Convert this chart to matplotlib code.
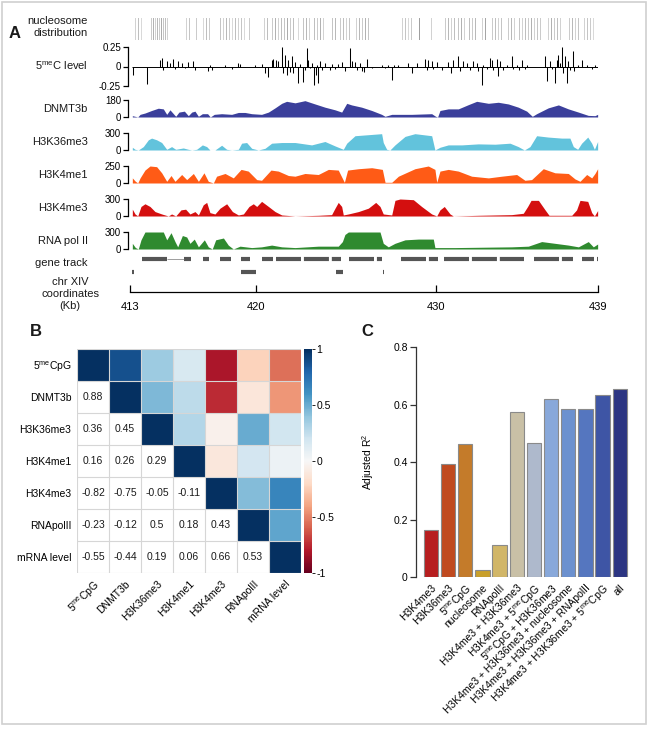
import numpy as np
import matplotlib
matplotlib.use('Agg')
import matplotlib.pyplot as plt
from matplotlib.patches import Rectangle

plt.rcParams['font.family'] = ['Liberation Sans', 'DejaVu Sans']
plt.rcParams['mathtext.fontset'] = 'custom'
plt.rcParams['mathtext.rm'] = 'Liberation Sans'
plt.rcParams['mathtext.it'] = 'Liberation Sans:italic'
plt.rcParams['mathtext.bf'] = 'Liberation Sans:bold'
plt.rcParams['text.color'] = '#1a1a1a'

# ---------------- panel A data (chr XIV, kb) ----------------
nucleosomes = [(413.28, .35), (413.44, .5), (413.61, .3),
               (414.17, .4), (414.28, .6), (414.39, .35), (414.5, .55), (414.61, .4), (414.72, .65),
               (414.83, .45), (414.94, .5), (415.06, .35),
               (416.11, .35), (416.28, .45), (416.67, .4),
               (417.06, .3), (417.22, .5), (417.39, .4),
               (418.0, .45), (418.17, .35), (418.33, .55), (418.5, .4), (418.67, .3), (418.83, .5),
               (419.0, .35), (419.17, .45), (419.33, .3), (419.61, .4),
               (420.44, .35), (420.61, .5), (420.89, .4), (421.06, .6), (421.22, .35), (421.39, .5),
               (421.56, .45), (421.72, .65), (421.89, .4), (422.06, .5), (422.33, .3),
               (422.61, .45), (422.78, .55), (422.94, .35), (423.22, .5), (423.39, .4), (423.56, .6),
               (423.72, .35), (424.22, .45), (424.39, .55),
               (424.67, .4), (424.83, .5), (425.0, .35), (425.17, .45), (425.56, .35), (425.72, .55),
               (425.89, .4), (426.06, .6), (426.22, .45),
               (428.11, .35), (428.28, .45), (428.44, .3), (428.61, .4), (429.06, .75), (429.72, .35),
               (430.5, .4), (430.67, .55), (430.83, .35), (431.0, .5), (431.22, .45), (431.39, .6),
               (431.56, .35), (431.83, .5), (432.0, .4), (432.17, .55), (432.56, .35), (432.72, .7),
               (433.11, .4), (433.28, .5), (433.44, .35), (433.61, .45), (434.0, .4), (434.17, .55),
               (434.33, .35),
               (434.61, .45), (434.78, .35), (434.94, .5), (435.11, .4), (435.28, .6), (435.44, .35),
               (435.61, .45), (435.78, .4),
               (436.22, .35), (436.39, .6), (436.56, .4), (436.72, .5), (436.89, .35), (437.39, .4),
               (437.56, .55), (437.72, .35), (437.89, .45),
               (438.22, .35), (438.39, .45), (438.56, .4), (438.72, .3)]

methyl_c = [(413.19, -0.108), (413.92, -0.224), (414.67, 0.086), (414.76, 0.108), (414.85, -0.043),
            (415.04, 0.065), (415.22, 0.043), (415.41, 0.095), (415.5, -0.034), (415.69, 0.065),
            (415.87, 0.043), (416.06, -0.022), (416.24, 0.052), (416.52, 0.065), (416.61, -0.043),
            (417.35, -0.052), (417.44, 0.022), (417.57, -0.043), (418.28, 0.017), (418.65, -0.026),
            (419.02, 0.043), (419.11, 0.03), (419.94, 0.022), (420.31, 0.03), (420.5, -0.086),
            (420.65, -0.129), (420.87, 0.078), (420.96, 0.095), (421.09, 0.086), (421.24, 0.065),
            (421.43, 0.25), (421.52, -0.086), (421.61, 0.151), (421.7, -0.108), (421.8, 0.086),
            (421.89, -0.065), (421.98, 0.129), (422.07, -0.086), (422.17, 0.052), (422.35, -0.216),
            (422.44, 0.034), (422.63, -0.194), (422.72, -0.043), (422.81, 0.237), (422.91, 0.086),
            (423.0, -0.022), (423.09, 0.043), (423.24, -0.237), (423.31, -0.108), (423.37, 0.022),
            (423.46, -0.216), (423.55, 0.065), (423.65, -0.043), (423.83, 0.043), (424.11, -0.043),
            (424.2, 0.034), (424.39, -0.034), (424.57, 0.034), (424.76, 0.052), (424.94, -0.052),
            (425.22, 0.237), (425.31, 0.065), (425.5, 0.052), (425.59, -0.043), (425.78, 0.043),
            (425.91, -0.052), (426.02, -0.065), (426.15, 0.095), (426.43, -0.022), (426.98, 0.022),
            (427.17, -0.022), (427.35, 0.017), (427.57, -0.172), (427.68, 0.022), (427.91, 0.017),
            (428.46, 0.043), (428.65, -0.078), (428.93, 0.043), (429.39, 0.095), (429.48, -0.043),
            (429.57, 0.086), (429.76, 0.065), (429.85, -0.034), (430.04, 0.052), (430.31, -0.043),
            (430.69, 0.052), (430.83, -0.078), (430.96, 0.078), (431.24, 0.129), (431.33, -0.052),
            (431.52, 0.065), (431.7, 0.043), (431.89, -0.043), (432.07, 0.065), (432.26, 0.043),
            (432.35, -0.052), (432.54, -0.237), (432.63, 0.022), (432.81, -0.034), (433.0, 0.108),
            (433.09, 0.086), (433.19, -0.043), (433.37, 0.095), (433.43, -0.121), (433.56, 0.065),
            (433.74, -0.043), (433.93, 0.022), (434.2, 0.129), (434.3, -0.034), (434.48, 0.022),
            (434.61, -0.043), (434.76, 0.086), (434.94, -0.034), (435.04, 0.022), (436.06, 0.129),
            (436.15, -0.181), (436.33, 0.065), (436.43, -0.034), (436.61, -0.216), (436.7, 0.086),
            (436.8, 0.151), (436.89, 0.043), (436.98, 0.25), (437.07, -0.086), (437.17, 0.129),
            (437.26, -0.207), (437.35, 0.065), (437.44, -0.043), (437.59, 0.194), (437.69, -0.052),
            (437.91, 0.022), (438.13, 0.086), (438.37, 0.022), (438.65, -0.026), (438.83, 0.022)]

dnmt3b = [(413.13, 14), (413.28, 7), (413.43, 0), (413.56, 28), (413.83, 42), (414.2, 69), (414.57, 93),
          (414.85, 86), (415.04, 28), (415.22, 76), (415.41, 35), (415.54, 7), (415.72, 52), (416.02, 62),
          (416.24, 14), (416.43, 52), (416.61, 62), (416.8, 7), (417.02, 35), (417.31, 35), (417.46, 0),
          (417.68, 28), (418.09, 35), (418.65, 28), (419.02, 48), (419.39, 48), (419.76, 35), (420.31, 28),
          (420.69, 52), (421.06, 97), (421.43, 145), (421.7, 166), (422.17, 150), (422.72, 173),
          (423.28, 138), (423.83, 104), (424.39, 76), (424.76, 52), (425.04, 145), (425.31, 128),
          (425.87, 104), (426.43, 69), (426.98, 28), (427.17, 7), (427.54, 28), (428.65, 28), (429.76, 35),
          (429.98, 7), (430.09, 0), (430.22, 69), (430.68, 86), (431.24, 86), (431.8, 131), (432.26, 166),
          (432.91, 145), (433.46, 156), (434.02, 138), (434.57, 104), (435.04, 62), (435.35, 7),
          (435.59, 35), (436.24, 97), (436.8, 128), (437.35, 86), (437.91, 52), (438.46, 17), (438.83, 14),
          (438.98, 28)]

h3k36me3 = [(413.13, 48), (413.28, 12), (413.46, 0), (413.74, 60), (414.02, 180), (414.2, 210), (414.48, 180),
            (414.76, 132), (415.04, 12), (415.31, 60), (415.54, 12), (415.96, 36), (416.24, 12), (416.43, 0),
            (416.7, 12), (417.02, 90), (417.26, 60), (417.44, 0), (417.72, 0), (418.09, 84), (418.37, 12),
            (418.65, 0), (419.02, 12), (419.2, 120), (419.48, 132), (419.76, 30), (420.13, 0), (420.5, 30),
            (420.87, 120), (421.43, 132), (422.17, 132), (423.09, 90), (423.83, 150), (424.39, 72),
            (424.85, 12), (425.04, 120), (425.5, 252), (426.24, 270), (426.98, 288), (427.07, 132),
            (427.26, 12), (427.44, 0), (427.72, 90), (428.28, 240), (428.83, 288), (429.76, 252),
            (429.94, 0), (430.22, 48), (430.68, 90), (431.43, 90), (432.35, 108), (433.28, 102),
            (434.11, 120), (434.57, 60), (434.91, 0), (435.22, 60), (435.59, 252), (436.24, 228),
            (436.98, 210), (437.44, 210), (437.63, 60), (437.87, 12), (438.09, 120), (438.43, 228),
            (438.65, 120), (438.8, 12), (438.98, 150)]

h3k4me1 = [(413.13, 75), (413.3, 25), (413.43, 0), (413.56, 75), (413.83, 190), (414.11, 250), (414.48, 240),
           (414.76, 150), (415.04, 25), (415.28, 110), (415.5, 25), (415.87, 125), (416.15, 50), (416.52, 140),
           (416.8, 25), (417.11, 150), (417.35, 25), (417.63, 0), (417.81, 100), (418.28, 140), (418.74, 75),
           (419.17, 200), (419.57, 175), (420.04, 50), (420.31, 40), (420.83, 190), (421.24, 175),
           (421.8, 110), (422.17, 100), (422.72, 140), (423.46, 125), (424.02, 200), (424.57, 190),
           (424.91, 10), (425.09, 190), (425.69, 210), (426.43, 225), (427.02, 200), (427.17, 10),
           (427.54, 10), (427.91, 100), (428.83, 210), (429.57, 250), (429.94, 200), (430.04, 10),
           (430.22, 175), (430.68, 200), (431.24, 175), (431.98, 100), (432.91, 75), (433.65, 100),
           (434.48, 125), (434.94, 40), (435.31, 50), (435.96, 210), (436.61, 150), (437.35, 140),
           (437.72, 60), (438.0, 25), (438.37, 125), (438.65, 75), (438.83, 140), (438.98, 210)]

h3k4me3 = [(413.13, 120), (413.28, 36), (413.43, 0), (413.61, 168), (413.83, 216), (414.11, 168), (414.39, 78),
           (414.76, 36), (415.13, 0), (415.31, 36), (415.54, 0), (415.83, 108), (416.09, 120), (416.33, 36),
           (416.61, 78), (416.8, 18), (417.07, 198), (417.26, 240), (417.44, 60), (417.72, 36), (418.0, 138),
           (418.37, 216), (418.69, 78), (419.02, 18), (419.3, 36), (419.61, 168), (419.85, 216),
           (420.04, 168), (420.31, 258), (420.69, 168), (421.06, 78), (421.43, 18), (422.17, 0),
           (423.46, 12), (424.2, 24), (424.39, 138), (424.57, 240), (424.76, 168), (424.85, 18),
           (425.13, 36), (425.69, 78), (426.24, 138), (426.65, 240), (426.89, 168), (427.07, 36),
           (427.54, 18), (427.72, 276), (428.0, 300), (428.74, 288), (429.2, 168), (429.76, 36),
           (430.04, 0), (430.22, 108), (430.46, 168), (430.78, 36), (430.96, 0), (432.35, 12), (434.2, 24),
           (434.85, 48), (435.09, 168), (435.28, 276), (435.69, 276), (436.06, 108), (436.28, 12),
           (437.54, 12), (437.81, 108), (438.0, 276), (438.43, 258), (438.65, 60), (438.8, 0), (438.98, 96)]

rnapol2 = [(413.13, 100), (413.3, 25), (413.46, 0), (413.61, 162), (413.83, 300), (414.2, 300), (414.85, 300),
           (415.04, 162), (415.28, 288), (415.5, 131), (415.65, 38), (415.91, 238), (416.15, 212),
           (416.33, 100), (416.57, 175), (416.8, 38), (417.13, 162), (417.35, 38), (417.57, 0),
           (417.76, 162), (418.19, 194), (418.46, 69), (418.74, 0), (419.11, 50), (419.76, 25), (420.31, 38),
           (420.87, 69), (421.43, 38), (422.17, 25), (423.46, 50), (424.57, 50), (424.8, 131), (424.94, 256),
           (425.13, 300), (426.89, 300), (427.07, 100), (427.35, 38), (427.72, 100), (428.28, 162),
           (429.02, 175), (429.85, 175), (429.94, 25), (431.06, 25), (434.2, 38), (435.13, 50),
           (435.87, 131), (436.61, 100), (437.35, 69), (437.91, 38), (438.46, 131), (438.74, 38),
           (438.98, 88)]

genes_row1 = [(413.67, 415.03), (416.0, 416.39), (417.06, 417.39), (418.0, 418.61), (419.14, 419.67),
              (420.31, 420.94), (421.11, 424.72), (425.14, 427.0), (428.06, 430.11), (430.42, 434.89),
              (435.42, 437.61), (438.09, 438.78), (438.95, 439.0)]
introns_row1 = [(415.03, 416.0)]
genes_row2 = [(413.13, 413.2), (419.14, 420.0), (424.42, 424.83), (427.04, 427.1)]
coord_ticks = [413, 420, 430, 439]

# ---------------- panel B data ----------------
hm_labels = [r'5$^{\mathrm{me}}$CpG', 'DNMT3b', 'H3K36me3', 'H3K4me1', 'H3K4me3', 'RNApolII', 'mRNA level']
corr_lower = [[0.88],
              [0.36, 0.45],
              [0.16, 0.26, 0.29],
              [-0.82, -0.75, -0.05, -0.11],
              [-0.23, -0.12, 0.5, 0.18, 0.43],
              [-0.55, -0.44, 0.19, 0.06, 0.66, 0.53]]

# ---------------- panel C data ----------------
bar_labels = ['H3K4me3', 'H3K36me3', r'5$^{\mathrm{me}}$CpG', 'nucleosome', 'RNApolII',
              'H3K4me3 + H3K36me3', r'H3K4me3 + 5$^{\mathrm{me}}$CpG', r'5$^{\mathrm{me}}$CpG + H3K36me3',
              'H3K4me3 + H3K36me3 + nucleosome', 'H3K4me3 + H3K36me3 + RNApolII',
              r'H3K4me3 + H3K36me3 + 5$^{\mathrm{me}}$CpG', 'all']
bar_values = [0.165, 0.393, 0.463, 0.023, 0.112, 0.575, 0.467, 0.619, 0.583, 0.583, 0.632, 0.653]
bar_colors = ['#b71e1f', '#c04a1f', '#c47b2a', '#c9a02b', '#d1b668', '#c9c0a6',
              '#aeb9cc', '#88a8da', '#6c91cf', '#5576bf', '#3e55a5', '#2c3582']

W, H = 654, 729
fig = plt.figure(figsize=(W / 100, H / 100), dpi=100)


def px_axes(x0, y0, x1, y1):
    return fig.add_axes([x0 / W, 1 - y1 / H, (x1 - x0) / W, (y1 - y0) / H])


def px_text(x, y, s, **kw):
    fig.text(x / W, 1 - y / H, s, **kw)


fig.patches.append(Rectangle((1.5 / W, 1 - 724 / H), 644 / W, 722 / H, transform=fig.transFigure,
                             fill=False, ec='#d0d0d0', lw=1.2))

TX0, TX1 = 130, 598
LAB_X = 88
lab_fs = 8
tick_fs = 7


def bracket(ax, lo, hi, ticks, labels):
    for s in ['top', 'right', 'bottom']:
        ax.spines[s].set_visible(False)
    ax.spines['left'].set_bounds(lo, hi)
    ax.spines['left'].set_position(('outward', 1.5))
    ax.spines['left'].set_linewidth(0.9)
    ax.set_yticks(ticks)
    ax.set_yticklabels(labels)
    ax.tick_params(axis='y', length=3.5, width=0.9, labelsize=tick_fs, pad=1.5)
    ax.set_xticks([])
    ax.set_xlim(413, 439)
    ax.patch.set_visible(False)


# nucleosomes
ax = px_axes(TX0, 18, TX1, 40)
for kb, s in nucleosomes:
    ax.axvline(kb, color='#505050', alpha=s * 0.75, lw=0.7)
ax.set_xlim(413, 439)
ax.axis('off')
px_text(LAB_X, 27, 'nucleosome\ndistribution', ha='right', va='center', fontsize=lab_fs, linespacing=1.2)

# 5meC level
ax = px_axes(TX0, 47, TX1, 86)
ax.hlines(0, 413.1, 439, color='black', lw=0.7)
ax.vlines([p[0] for p in methyl_c], 0, [p[1] for p in methyl_c], color='black', lw=0.75)
ax.set_ylim(-0.25, 0.25)
bracket(ax, -0.25, 0.25, [-0.25, 0, 0.25], ['-0.25', '0', '0.25'])
px_text(LAB_X, 66, r'5$^{\mathrm{me}}$C level', ha='right', va='center', fontsize=lab_fs)

tracks = [('DNMT3b', dnmt3b, '#3b3f9b', 180, 117),
          ('H3K36me3', h3k36me3, '#62c3dc', 300, 150),
          ('H3K4me1', h3k4me1, '#ff5b16', 250, 183),
          ('H3K4me3', h3k4me3, '#d40f0f', 300, 216),
          ('RNA pol II', rnapol2, '#2f8a2f', 300, 249)]
for name, data, col, ymax, base in tracks:
    ax = px_axes(TX0, base - 17, TX1, base)
    xs = [p[0] for p in data]
    ys = [p[1] for p in data]
    ax.fill_between(xs, 0, ys, color=col, lw=0)
    ax.hlines(0, 413.1, 439, color=col, lw=0.8, alpha=0.5)
    ax.set_ylim(0, ymax)
    bracket(ax, 0, ymax, [0, ymax], ['0', str(ymax)])
    px_text(LAB_X, base - 8, name, ha='right', va='center', fontsize=lab_fs)

# gene track
ax = px_axes(TX0, 253, TX1, 278)
ax.set_xlim(413, 439)
ax.set_ylim(278, 253)
for a, b in genes_row1:
    ax.hlines(259, a, b, color='#555555', lw=3.0, linestyles=(0, (6, 0.7)), capstyle='butt')
for a, b in introns_row1:
    ax.hlines(259, a, b, color='#777777', lw=0.5)
for a, b in genes_row2:
    ax.hlines(272, a, b, color='#555555', lw=3.0, capstyle='butt')
ax.axis('off')
px_text(LAB_X, 263, 'gene track', ha='right', va='center', fontsize=lab_fs)

# coordinate axis
ax = px_axes(TX0, 285, TX1, 292)
ax.set_xlim(413, 439)
for s in ['top', 'right', 'left']:
    ax.spines[s].set_visible(False)
ax.spines['bottom'].set_linewidth(0.9)
ax.spines['bottom'].set_bounds(413, 439)
ax.set_yticks([])
ax.set_xticks(coord_ticks)
ax.tick_params(axis='x', direction='in', length=5, width=0.9, labelsize=lab_fs, pad=7)
ax.patch.set_visible(False)
px_text(70, 294, 'chr XIV\ncoordinates\n(Kb)', ha='center', va='center', fontsize=lab_fs, linespacing=1.3)

px_text(15, 33, 'A', ha='center', va='center', fontsize=12, fontweight='bold')
px_text(36, 331, 'B', ha='center', va='center', fontsize=12, fontweight='bold')
px_text(367, 331, 'C', ha='center', va='center', fontsize=12, fontweight='bold')

# ---------------- panel B ----------------
n = len(hm_labels)
M = np.eye(n)
for i, row in enumerate(corr_lower, start=1):
    for j, v in enumerate(row):
        M[i, j] = v
        M[j, i] = v
lower = np.tril(np.ones((n, n), dtype=bool), k=-1)
cmap = plt.get_cmap('RdBu').copy()
cmap.set_bad('white')

ax = px_axes(77, 349, 301, 573)
mesh = ax.pcolormesh(np.ma.masked_where(lower, M), cmap=cmap, vmin=-1, vmax=1)
for k in range(n + 1):
    ax.axhline(k, color='#d6d6d6', lw=0.8)
    ax.axvline(k, color='#d6d6d6', lw=0.8)
for i in range(n):
    for j in range(i):
        ax.text(j + 0.5, i + 0.5, f'{M[i, j]:g}', ha='center', va='center', fontsize=7.5)
ax.set_xlim(0, n)
ax.set_ylim(n, 0)
for s in ax.spines.values():
    s.set_visible(False)
ax.set_yticks(np.arange(n) + 0.5)
ax.set_yticklabels(hm_labels, fontsize=7.5)
ax.set_xticks(np.arange(n) + 0.5)
ax.set_xticklabels(hm_labels, fontsize=7.5, rotation=45, ha='right', rotation_mode='anchor')
ax.tick_params(length=0, pad=4)

cax = px_axes(304, 349, 312, 573)
cb = fig.colorbar(mesh, cax=cax)
cb.outline.set_visible(False)
cb.set_ticks([-1, -0.5, 0, 0.5, 1])
cb.set_ticklabels(['-1', '-0.5', '0', '0.5', '1'])
cax.tick_params(length=2, width=0.6, labelsize=7.5, pad=1)

# ---------------- panel C ----------------
ax = px_axes(416, 347, 630, 577)
x = np.arange(len(bar_values))
ax.bar(x, bar_values, width=0.83, color=bar_colors, edgecolor='#8a8a8a', linewidth=0.8)
ax.set_xlim(-0.87, 11.6)
ax.set_ylim(0, 0.8)
for s in ['top', 'right', 'bottom']:
    ax.spines[s].set_visible(False)
ax.spines['left'].set_linewidth(0.9)
ax.spines['left'].set_color('#333333')
ax.set_yticks([0, 0.2, 0.4, 0.6, 0.8])
ax.set_yticklabels(['0', '0.2', '0.4', '0.6', '0.8'])
ax.tick_params(axis='y', length=4, width=0.9, labelsize=7.5, pad=2, color='#333333')
ax.set_xticks(x)
ax.set_xticklabels(bar_labels, fontsize=7.5, rotation=45, ha='right', rotation_mode='anchor')
ax.tick_params(axis='x', length=0, pad=4)
ax.set_ylabel(r'Adjusted R$^{2}$', fontsize=7.5, labelpad=12)

fig.savefig('out.png', dpi=100)
